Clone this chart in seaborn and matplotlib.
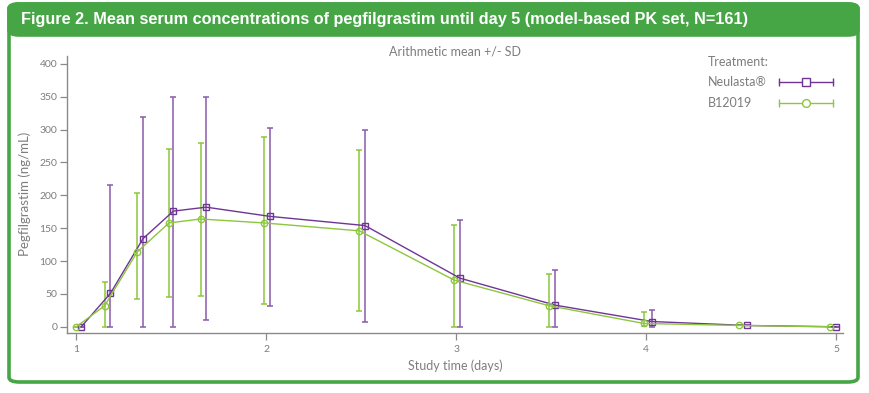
import matplotlib
matplotlib.use("Agg")
import matplotlib.pyplot as plt
from matplotlib.patches import FancyBboxPatch, Rectangle
from matplotlib.lines import Line2D
import seaborn as sns
import pandas as pd
import numpy as np

# ---- data ----
neu_time = [1.026, 1.18, 1.351, 1.511, 1.684, 2.019, 2.52, 3.02, 3.52, 4.03, 4.53, 5.0]
neu_mean = [0, 51, 134, 176, 182, 168, 154, 74, 33, 8, 2, 0]
neu_low = [0, 0, 0, 0, 10, 32, 7, 0, 0, 0, 2, 0]
neu_high = [0, 216, 319, 349, 350, 302, 300, 163, 86, 26, 2, 0]

b12_time = [1.0, 1.149, 1.321, 1.488, 1.654, 1.989, 2.49, 2.99, 3.49, 3.99, 4.49, 4.97]
b12_mean = [0, 32, 114, 158, 164, 158, 146, 71, 32, 5, 2, 0]
b12_low = [0, 0, 42, 45, 47, 34, 24, 0, 0, 1, 2, 0]
b12_high = [0, 68, 204, 270, 280, 288, 269, 155, 81, 22, 2, 0]

series_names = ["Neulasta®", "B12019"]
x_ticks = [1, 2, 3, 4, 5]
y_ticks = [0, 50, 100, 150, 200, 250, 300, 350, 400]

PURPLE = "#6f3593"
PURPLE_BAR = "#8a5aab"
GREEN = "#8dc63f"
FRAME_GREEN = "#46a646"
GREY = "#8a8a8a"
TXT = "#7d7d7d"

df = pd.concat([
    pd.DataFrame({"time": neu_time, "conc": neu_mean, "Treatment": series_names[0]}),
    pd.DataFrame({"time": b12_time, "conc": b12_mean, "Treatment": series_names[1]}),
])

W, H = 869, 393
fig = plt.figure(figsize=(W / 100, H / 100), dpi=100)
fig.patch.set_facecolor("white")

def fx(px):
    return px / W

def fy(py):
    return 1 - py / H

# ---- frame ----
frame = FancyBboxPatch((fx(9), fy(382)), fx(849), fy(4) - fy(382),
                       boxstyle="round,pad=0,rounding_size=0.012",
                       transform=fig.transFigure, facecolor="white",
                       edgecolor=FRAME_GREEN, linewidth=2.6, zorder=0)
fig.add_artist(frame)
header = FancyBboxPatch((fx(9), fy(35)), fx(849), fy(4) - fy(35),
                        boxstyle="round,pad=0,rounding_size=0.012",
                        transform=fig.transFigure, facecolor=FRAME_GREEN,
                        edgecolor=FRAME_GREEN, linewidth=2.6, zorder=0.5)
fig.add_artist(header)
fig.add_artist(Rectangle((fx(9), fy(35)), fx(849), fy(22) - fy(35),
                         transform=fig.transFigure, facecolor=FRAME_GREEN,
                         edgecolor="none", zorder=0.6))
fig.text(fx(21), fy(19.5),
         "Figure 2. Mean serum concentrations of pegfilgrastim until day 5 (model-based PK set, N=161)",
         color="white", fontsize=11.7, fontweight="bold",
         family=["Liberation Sans", "DejaVu Sans"],
         ha="left", va="center", zorder=2)

# ---- axes ----
ax = fig.add_axes([fx(67), fy(332.7), fx(843) - fx(67), fy(56) - fy(332.7)])
ax.set_facecolor("none")

for t, m, lo, hi, col in [
    (b12_time, b12_mean, b12_low, b12_high, GREEN),
    (neu_time, neu_mean, neu_low, neu_high, PURPLE_BAR),
]:
    m_arr = np.array(m, float)
    yerr = np.vstack([m_arr - np.array(lo, float), np.array(hi, float) - m_arr])
    ax.errorbar(t, m_arr, yerr=yerr, fmt="none", ecolor=col, elinewidth=1.1,
                capsize=2.5, capthick=1.1, zorder=2)

n_before = len(ax.lines)
sns.lineplot(data=df, x="time", y="conc", hue="Treatment",
             hue_order=series_names, palette=[PURPLE, GREEN],
             style="Treatment", style_order=series_names,
             markers={"Neulasta®": "s", "B12019": "o"},
             dashes=False, linewidth=1.0, markersize=4.6,
             legend=False, ax=ax, zorder=3, sort=False)
for ln in ax.lines[n_before:]:
    ln.set_markeredgecolor(ln.get_color())
    ln.set_markerfacecolor("none")
    ln.set_markeredgewidth(1.0)

ax.set_xlim(0.951, 5.037)
ax.set_ylim(-9, 412)
ax.set_xticks(x_ticks)
ax.set_yticks(y_ticks)
ax.set_xticklabels([str(v) for v in x_ticks])
ax.set_yticklabels([str(v) for v in y_ticks])
for s in ["top", "right"]:
    ax.spines[s].set_visible(False)
for s in ["left", "bottom"]:
    ax.spines[s].set_color(GREY)
    ax.spines[s].set_linewidth(1.0)
ax.tick_params(axis="both", colors=GREY, labelcolor=TXT, labelsize=7.5,
               length=5, width=0.9, direction="out")
ax.tick_params(axis="y", pad=2)
ax.tick_params(axis="x", pad=4)
ax.set_xlabel("Study time (days)", color=TXT, fontsize=9, family="Lato", labelpad=4)
ax.set_ylabel("Pegfilgrastim (ng/mL)", color=TXT, fontsize=9.5, family="Lato", labelpad=6)
for lab in ax.get_xticklabels() + ax.get_yticklabels():
    lab.set_family("Lato")

fig.text(fx(455), fy(52), "Arithmetic mean +/- SD", color=TXT, fontsize=9,
         family="Lato", ha="center", va="center")

# ---- legend (manual) ----
fig.text(fx(708), fy(62), "Treatment:", color=TXT, fontsize=9, family="Lato",
         ha="left", va="center")
for i, (name, col, mk) in enumerate([(series_names[0], PURPLE, "s"),
                                     (series_names[1], GREEN, "o")]):
    yy = fy(82 + 21 * i)
    fig.text(fx(708), yy, name, color=TXT, fontsize=9, family="Lato",
             ha="left", va="center")
    fig.add_artist(Line2D([fx(779), fx(833)], [yy, yy], color=col, lw=1.0,
                          transform=fig.transFigure))
    fig.add_artist(Line2D([fx(779), fx(833)], [yy, yy], color=col, lw=0,
                          marker="|", markersize=6, markeredgewidth=1.0,
                          transform=fig.transFigure))
    fig.add_artist(Line2D([fx(806)], [yy], color=col, lw=0, marker=mk,
                          markersize=5.6, markerfacecolor="white",
                          markeredgewidth=1.0, transform=fig.transFigure))

fig.savefig("out.png", dpi=100, facecolor="white")
